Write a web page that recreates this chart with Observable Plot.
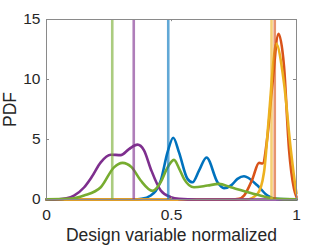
<!DOCTYPE html>
<html><head><meta charset="utf-8">
<script src="https://cdn.jsdelivr.net/npm/d3@7"></script>
<script src="https://cdn.jsdelivr.net/npm/@observablehq/plot@0.6"></script>
<style>body{margin:0;background:#fff;} svg{display:block;}</style>
</head><body><div id="chart"></div>
<script>
const blueX = [0, 0.35, 0.38, 0.417, 0.457, 0.484, 0.507, 0.53, 0.564, 0.584, 0.61, 0.64, 0.684, 0.71, 0.74, 0.764, 0.79, 0.844, 0.884, 0.92, 1];
const blueY = [0, 0, 0.05, 0.33, 1.58, 3.93, 5.15, 3.93, 1.72, 1.44, 2.4, 3.5, 1.44, 0.95, 1.2, 1.72, 1.94, 1.16, 0.33, 0.05, 0];
const orangeX = [0, 0.74, 0.77, 0.79, 0.824, 0.85, 0.864, 0.884, 0.904, 0.928, 0.95, 0.97, 0.99, 1];
const orangeY = [0, 0, 0.05, 0.33, 1.72, 3.05, 3.0, 5.3, 9.7, 13.8, 11.1, 4.2, 0.9, 0.2];
const yellowX = [0, 0.8, 0.844, 0.87, 0.89, 0.91, 0.918, 0.95, 0.977, 0.997, 1];
const yellowY = [0, 0, 0.47, 2.27, 7.0, 11.95, 13.0, 9.7, 4.2, 0.9, 0.5];
const purpleX = [0, 0.05, 0.08, 0.11, 0.15, 0.18, 0.217, 0.257, 0.297, 0.33, 0.364, 0.39, 0.417, 0.457, 0.497, 0.53, 0.6, 1];
const purpleY = [0, 0.02, 0.1, 0.33, 1.0, 1.85, 3.1, 3.73, 3.7, 4.2, 4.57, 4.1, 2.55, 0.75, 0.2, 0.05, 0, 0];
const greenX = [0, 0.1, 0.15, 0.217, 0.27, 0.304, 0.34, 0.377, 0.424, 0.457, 0.48, 0.51, 0.53, 0.55, 0.59, 0.644, 0.69, 0.737, 0.817, 0.897, 0.95, 1];
const greenY = [0.02, 0.08, 0.33, 1.02, 2.68, 3.05, 2.7, 1.58, 0.72, 1.44, 2.5, 3.3, 2.6, 1.72, 1.02, 1.16, 1.3, 1.02, 0.55, 0.12, 0.03, 0.02];

const seriesNames = ["blue", "orange", "yellow", "purple", "green"];
const seriesColors = ["#0072BD", "#D95319", "#EDB120", "#7E2F8E", "#77AC30"];
const seriesX = [blueX, orangeX, yellowX, purpleX, greenX];
const seriesY = [blueY, orangeY, yellowY, purpleY, greenY];

const vlineX = [0.487, 0.913, 0.900, 0.349, 0.263];

const xTicks = [0, 0.5, 1];
const xTickLabels = ["0", "0.5", "1"];
const yTicks = [0, 5, 10, 15];
const yTickLabels = ["0", "5", "10", "15"];

const curveData = [];
seriesNames.forEach((name, i) => {
  seriesX[i].forEach((x, j) => curveData.push({series: name, x, y: seriesY[i][j], color: seriesColors[i]}));
});
const vlines = vlineX.map((x, i) => ({x, color: seriesColors[i]}));

const axisColor = "#8a8a8a";
const textColor = "#262626";

const plot = Plot.plot({
  width: 327, height: 245,
  marginLeft: 46, marginRight: 31, marginTop: 19, marginBottom: 46,
  x: {domain: [0, 1], axis: null},
  y: {domain: [0, 15], axis: null},
  style: {fontFamily: "Liberation Sans, Arial, sans-serif", background: "#fff"},
  marks: [
    ...seriesNames.map((name, i) => Plot.line(curveData.filter(d => d.series === name), {
      x: "x", y: "y", stroke: seriesColors[i], strokeWidth: 2.6, curve: "monotone-x"
    })),
    Plot.ruleX(vlines, {x: "x", y1: 0, y2: 15, stroke: "color", strokeOpacity: 0.62, strokeWidth: 2.6}),
    Plot.frame({stroke: axisColor, strokeWidth: 1}),
    Plot.ruleY(yTicks, {y: d => d, x1: 0, x2: 0.012, stroke: axisColor}),
    Plot.ruleY(yTicks, {y: d => d, x1: 0.988, x2: 1, stroke: axisColor}),
    Plot.ruleX(xTicks, {x: d => d, y1: 0, y2: 0.18, stroke: axisColor}),
    Plot.ruleX(xTicks, {x: d => d, y1: 14.82, y2: 15, stroke: axisColor}),
    Plot.text(xTicks, {x: d => d, y: 0, text: (d, i) => xTickLabels[i], dy: 16, fontSize: 15.5, fill: textColor}),
    Plot.text(yTicks, {x: 0, y: d => d, text: (d, i) => yTickLabels[i], dx: -6, textAnchor: "end", fontSize: 15.5, fill: textColor}),
    Plot.text(["Design variable normalized"], {x: 0.5, y: 0, text: d => d, dy: 36, fontSize: 17.5, fill: textColor}),
    Plot.text(["PDF"], {x: 0, y: 7.5, text: d => d, dx: -36, rotate: -90, fontSize: 17.5, fill: textColor})
  ]
});
document.getElementById("chart").appendChild(plot);
</script>
</body></html>
